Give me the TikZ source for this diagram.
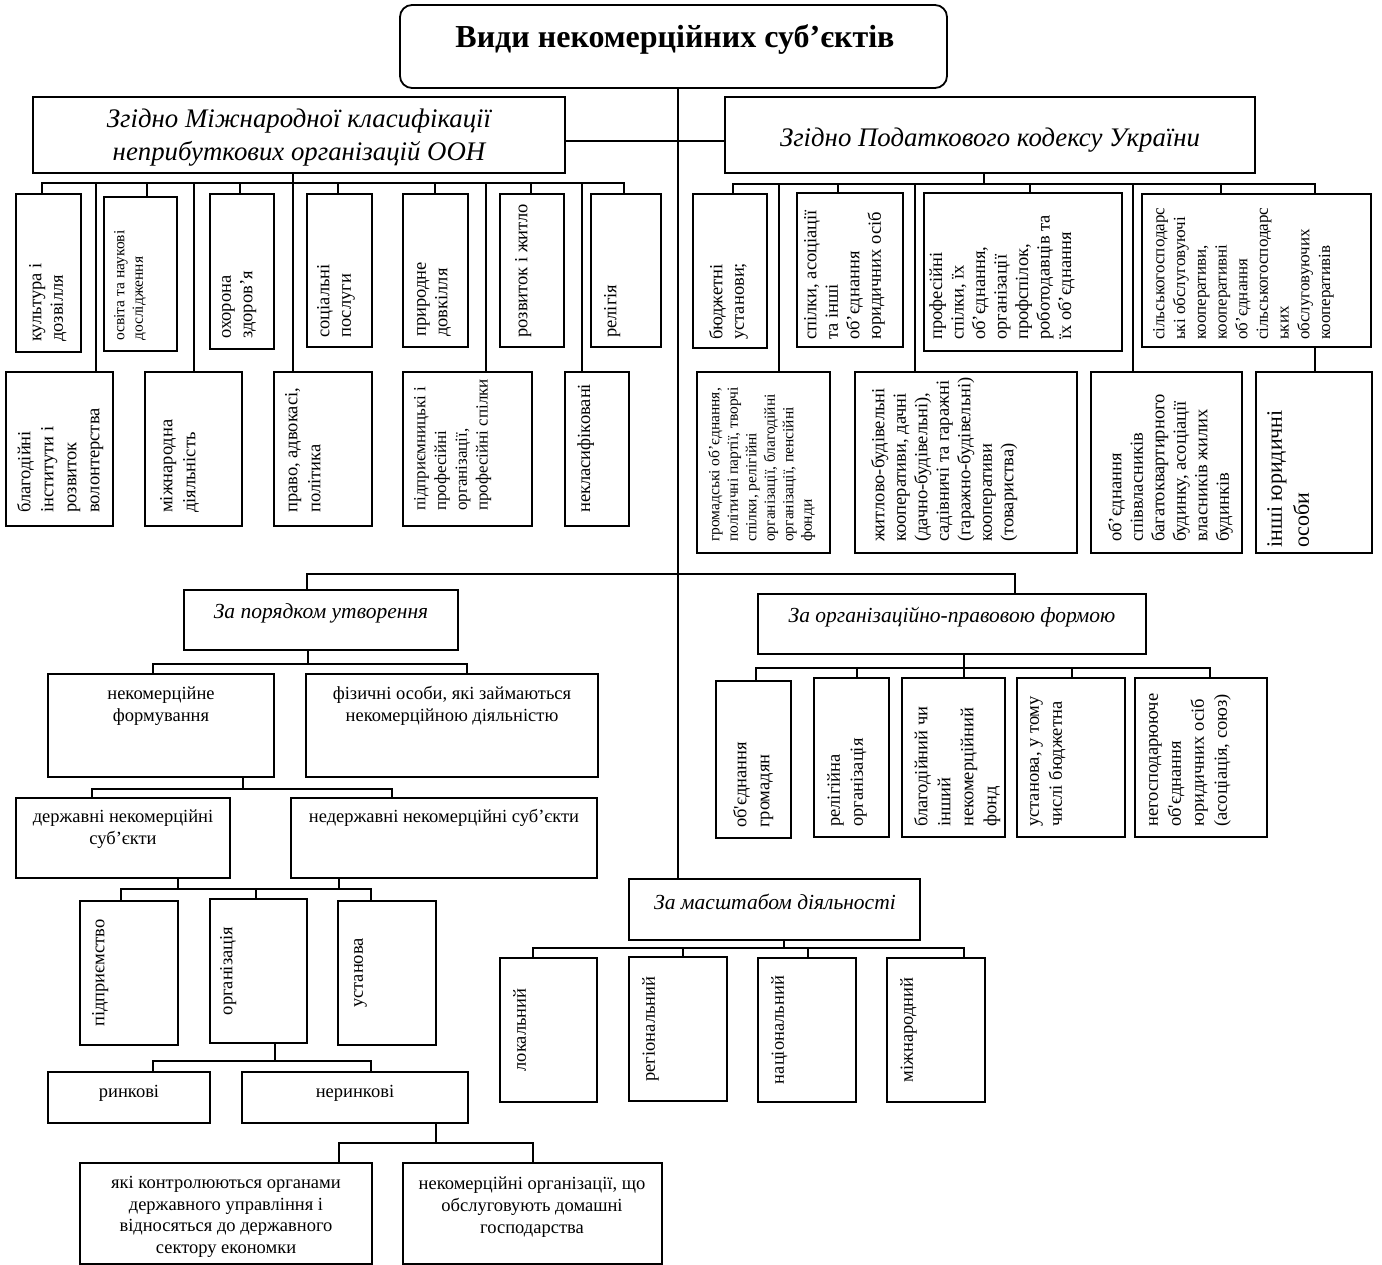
\documentclass[tikz,border=0pt]{standalone}
\usepackage{fontspec}
\setmainfont{Liberation Serif}
\newcommand\mkbox[6][]{\node[bx,#1,minimum width={(#5-#3)*1pt},minimum height={(#6-#4)*1pt}] (#2) at ({(#3+#5)/2},{(#4+#6)/2}) {};}
\newcommand\mkvt[5]{\node[#4,anchor=north west] (#1-t) at ([xshift=#2pt,yshift=#3pt]#1.south west) {#5};}
\newcommand\mkvc[4]{\node[#3,anchor=north] (#1-t) at ([xshift=#2pt]#1.west) {#4};}
\newcommand\link[5]{\draw[conn] (#2.south -| #1,0) -- (#1,#3) -| (#5.north -| #4,0);}
\begin{document}
\begin{tikzpicture}[x=1pt,y=-1pt,
  bx/.style={draw, line width=1.8pt, inner sep=0pt, outer sep=0pt},
  conn/.style={line width=1.6pt},
  vt/.style={rotate=90, align=left, inner sep=0pt, font=\fontsize{18.5}{21.5}\selectfont},
  vtw/.style={rotate=90, align=left, inner sep=0pt, font=\fontsize{18.5}{23}\selectfont},
  vts/.style={rotate=90, align=left, inner sep=0pt, font=\fontsize{15.5}{18.5}\selectfont},
  vtm/.style={rotate=90, align=left, inner sep=0pt, font=\fontsize{17}{20.7}\selectfont},
  vtl/.style={rotate=90, align=left, inner sep=0pt, font=\fontsize{22}{27}\selectfont},
  ht/.style={align=center, inner sep=0pt, font=\fontsize{18.5}{22}\selectfont},
  hd/.style={align=center, inner sep=0pt, font=\fontsize{26.8}{33}\selectfont\itshape},
  sh/.style={align=center, inner sep=0pt, font=\fontsize{21.5}{26}\selectfont\itshape}]
\fill[white] (0,0) rectangle (1382,1265);
\useasboundingbox (0,0) rectangle (1382,1265);

% title
\mkbox[rounded corners=12pt]{T}{400}{5}{947}{88}
\node[font=\fontsize{32}{36}\selectfont\bfseries] (T-t) at (675,40) {Види некомерційних суб’єктів};

% main headers
\mkbox{UN}{33}{97}{565}{173}
\node[hd] (UN-t) at (299,138) {Згідно Міжнародної класифікації\\неприбуткових організацій ООН};
\mkbox{TAX}{725}{97}{1255}{173}
\node[hd] (TAX-t) at (990,140) {Згідно Податкового кодексу України};

% UN upper row
\mkbox{u1}{16}{194}{81}{352}
\mkvt{u1}{13}{10}{vt}{культура і\\дозвілля}
\mkbox{u2}{104}{197}{177}{351}
\mkvt{u2}{10}{10}{vts}{освіта та наукові\\дослідження}
\mkbox{u3}{210}{194}{274}{349}
\mkvt{u3}{12}{10}{vt}{охорона\\здоров’я}
\mkbox{u4}{307}{194}{372}{347}
\mkvt{u4}{10}{9}{vt}{соціальні\\послуги}
\mkbox{u5}{403}{194}{468}{347}
\mkvt{u5}{14}{10}{vt}{природне\\довкілля}
\mkbox{u6}{500}{194}{564}{347}
\mkvt{u6}{15}{9}{vt}{розвиток і житло}
\mkbox{u7}{591}{194}{661}{347}
\mkvt{u7}{13}{9}{vt}{релігія}
% UN lower row
\mkbox{l1}{6}{372}{113}{526}
\mkvt{l1}{11}{13}{vtw}{благодійні\\інститути і\\розвиток\\волонтерства}
\mkbox{l2}{145}{372}{242}{526}
\mkvt{l2}{15}{13}{vtw}{міжнародна\\діяльність}
\mkbox{l3}{274}{372}{372}{526}
\mkvt{l3}{11}{13}{vtw}{право, адвокасі,\\політика}
\mkbox{l4}{403}{372}{532}{526}
\mkvt{l4}{11}{15}{vtm}{підприємницькі і\\професійні\\організації,\\професійні спілки}
\mkbox{l5}{565}{372}{629}{526}
\mkvt{l5}{12}{13}{vt}{некласифіковані}

% TAX upper row
\mkbox{t1}{693}{194}{767}{348}
\mkvt{t1}{16}{8}{vt}{бюджетні\\установи;}
\mkbox{t2}{797}{193}{903}{347}
\mkvt{t2}{7}{7}{vt}{спілки, асоціації\\та інші\\об’єднання\\юридичних осіб}
\mkbox{t3}{924}{193}{1122}{351}
\mkvt{t3}{5}{11}{vt}{професійні\\спілки, їх\\об’єднання,\\організації\\профспілок,\\роботодавців та\\їх об’єднання}
\mkbox{t4}{1142}{194}{1371}{347}
\mkvt{t4}{11}{7}{vtm}{сільськогосподарс\\ькі обслуговуючі\\кооперативи,\\кооперативні\\об’єднання\\сільськогосподарс\\ьких\\обслуговуючих\\кооперативів}
% TAX lower row
\mkbox{t5}{697}{372}{830}{553}
\mkvt{t5}{11}{11}{vts}{громадські об’єднання,\\політичні партії, творчі\\спілки, релігійні\\організації, благодійні\\організації, пенсійні\\фонди}
\mkbox{t6}{855}{372}{1077}{553}
\mkvt{t6}{16}{11}{vt}{житлово-будівельні\\кооперативи, дачні\\(дачно-будівельні),\\садівничі та гаражні\\(гаражно-будівельні)\\кооперативи\\(товариства)}
\mkbox{t7}{1091}{372}{1242}{553}
\mkvt{t7}{17}{11}{vt}{об’єднання\\співвласників\\багатоквартирного\\будинку, асоціації\\власників жилих\\будинків}
\mkbox{t8}{1256}{372}{1372}{553}
\mkvt{t8}{11}{5}{vtl}{інші юридичні\\особи}

% section headers
\mkbox{OR}{184}{590}{458}{650}
\node[sh] (OR-t) at (321,613) {За порядком утворення};
\mkbox{OLF}{758}{594}{1146}{654}
\node[sh] (OLF-t) at (952,617) {За організаційно-правовою формою};
\mkbox{SC}{629}{879}{920}{940}
\node[sh] (SC-t) at (775,902) {За масштабом діяльності};

% by formation
\mkbox{NF}{48}{674}{274}{777}
\node[ht] (NF-t) at (161,706) {некомерційне\\формування};
\mkbox{FO}{306}{674}{598}{777}
\node[ht] (FO-t) at (452,706) {фізичні особи, які займаються\\некомерційною діяльністю};
\mkbox{DS}{16}{798}{230}{878}
\node[ht] (DS-t) at (123,829) {державні некомерційні\\суб’єкти};
\mkbox{ND}{291}{798}{597}{878}
\node[ht] (ND-t) at (444,818) {недержавні некомерційні суб’єкти};
\mkbox{p1}{80}{901}{178}{1045}
\mkvc{p1}{12}{vt}{підприємство}
\mkbox{p2}{210}{899}{307}{1043}
\mkvc{p2}{10}{vt}{організація}
\mkbox{p3}{338}{901}{436}{1045}
\mkvc{p3}{16}{vt}{установа}
\mkbox{RY}{48}{1072}{210}{1123}
\node[ht] (RY-t) at (129,1093) {ринкові};
\mkbox{NR}{242}{1072}{468}{1123}
\node[ht] (NR-t) at (355,1093) {неринкові};
\mkbox{KC}{80}{1163}{372}{1264}
\node[ht,font=\fontsize{18.5}{21.7}\selectfont] (KC-t) at (226,1217) {які контролюються органами\\державного управління і\\відносяться до державного\\сектору економки};
\mkbox{NO}{403}{1163}{662}{1264}
\node[ht,font=\fontsize{18.5}{21.7}\selectfont] (NO-t) at (532,1207) {некомерційні організації, що\\обслуговують домашні\\господарства};

% by legal form
\mkbox{o1}{716}{681}{791}{838}
\mkvt{o1}{17}{10}{vtw}{об\textquotesingle єднання\\громадян}
\mkbox{o2}{814}{678}{889}{837}
\mkvt{o2}{13}{10}{vtw}{релігійна\\організація}
\mkbox{o3}{902}{678}{1005}{837}
\mkvt{o3}{12}{10}{vtw}{благодійний чи\\інший\\некомерційний\\фонд}
\mkbox{o4}{1017}{678}{1125}{837}
\mkvt{o4}{13}{10}{vtw}{установа, у тому\\числі бюджетна}
\mkbox{o5}{1135}{678}{1267}{837}
\mkvt{o5}{14}{10}{vtw}{негосподарююче\\об\textquotesingle єднання\\юридичних осіб\\(асоціація, союз)}

% by scale
\mkbox{s1}{500}{958}{597}{1102}
\mkvc{s1}{13}{vt}{локальний}
\mkbox{s2}{629}{957}{727}{1101}
\mkvc{s2}{13}{vt}{регіональний}
\mkbox{s3}{758}{958}{856}{1102}
\mkvc{s3}{13}{vt}{національний}
\mkbox{s4}{887}{958}{985}{1102}
\mkvc{s4}{13}{vt}{міжнародний}

% ---------- connectors ----------
\coordinate (J1) at (678,141);
\coordinate (J2) at (678,574);
\draw[conn] (T.south -| 678,0) -- (SC.north -| 678,0);
\draw[conn] (J1) -- (UN.east |- J1);
\draw[conn] (J1) -- (TAX.west |- J1);
\draw[conn] (J2) -| (OR.north -| 307,0);
\draw[conn] (J2) -| (OLF.north -| 1015,0);

\link{293}{UN}{183}{42}{u1}
\link{293}{UN}{183}{147}{u2}
\link{293}{UN}{183}{240}{u3}
\link{293}{UN}{183}{338}{u4}
\link{293}{UN}{183}{435}{u5}
\link{293}{UN}{183}{531}{u6}
\link{293}{UN}{183}{624}{u7}
\link{293}{UN}{183}{96}{l1}
\link{293}{UN}{183}{194}{l2}
\link{293}{UN}{183}{293}{l3}
\link{293}{UN}{183}{486}{l4}
\link{293}{UN}{183}{582}{l5}

\link{984}{TAX}{184}{733}{t1}
\link{984}{TAX}{184}{838}{t2}
\link{984}{TAX}{184}{1030}{t3}
\link{984}{TAX}{184}{1221}{t4}
\link{984}{TAX}{184}{1315}{t4}
\link{984}{TAX}{184}{779}{t5}
\link{984}{TAX}{184}{915}{t6}
\link{984}{TAX}{184}{1133}{t7}
\draw[conn] (t4.south -| 1315,0) -- (t8.north -| 1315,0);

\link{308}{OR}{664}{153}{NF}
\link{308}{OR}{664}{467}{FO}
\link{243}{NF}{789}{92}{DS}
\link{243}{NF}{789}{392}{ND}
\link{178}{DS}{889}{121}{p1}
\link{178}{DS}{889}{256}{p2}
\link{178}{DS}{889}{371}{p3}
\link{339}{ND}{889}{256}{p2}
\link{275}{p2}{1061}{153}{RY}
\link{275}{p2}{1061}{371}{NR}
\link{436}{NR}{1143}{339}{KC}
\link{436}{NR}{1143}{533}{NO}

\link{964}{OLF}{668}{756}{o1}
\link{964}{OLF}{668}{857}{o2}
\link{964}{OLF}{668}{964}{o3}
\link{964}{OLF}{668}{1072}{o4}
\link{964}{OLF}{668}{1210}{o5}

\link{784}{SC}{948}{533}{s1}
\link{784}{SC}{948}{683}{s2}
\link{784}{SC}{948}{808}{s3}
\link{784}{SC}{948}{964}{s4}
\end{tikzpicture}
\end{document}
